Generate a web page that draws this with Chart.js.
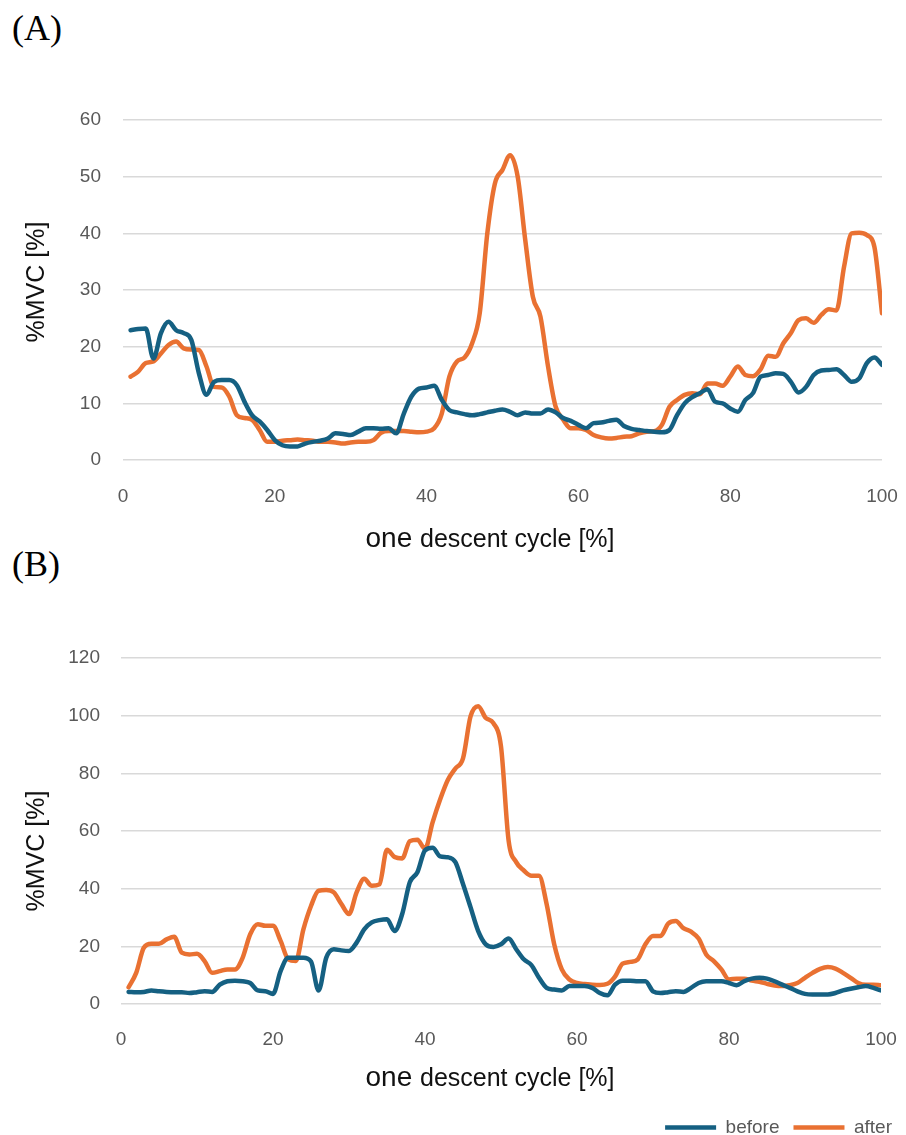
<!DOCTYPE html>
<html>
<head>
<meta charset="utf-8">
<script src="https://cdn.jsdelivr.net/npm/chart.js@4.4.1/dist/chart.umd.min.js"></script>
<style>
  body { margin: 0; width: 906px; height: 1135px; overflow: hidden; background: #fff; position: relative; }
  .panel { position: absolute; left: 12px; font-family: 'Liberation Serif', 'DejaVu Serif', serif; font-size: 36px; color: #000; line-height: 1; }
  canvas { position: absolute; left: 0; }
</style>
</head>
<body>
<div class="panel" style="top:10px">(A)</div>
<div class="panel" style="top:546px">(B)</div>
<canvas id="chartA" width="906" height="560" style="top:0"></canvas>
<canvas id="chartB" width="906" height="587" style="top:560px"></canvas>
<script>
// x positions of the samples, % of one descent cycle
const cycle = [1, 2, 3, 4, 5, 6, 7, 8, 9, 10, 11, 12, 13, 14, 15, 16, 17, 18, 19, 20,
  21, 22, 23, 24, 25, 26, 27, 28, 29, 30, 31, 32, 33, 34, 35, 36, 37, 38, 39, 40,
  41, 42, 43, 44, 45, 46, 47, 48, 49, 50, 51, 52, 53, 54, 55, 56, 57, 58, 59, 60,
  61, 62, 63, 64, 65, 66, 67, 68, 69, 70, 71, 72, 73, 74, 75, 76, 77, 78, 79, 80,
  81, 82, 83, 84, 85, 86, 87, 88, 89, 90, 91, 92, 93, 94, 95, 96, 97, 98, 99, 100];

// (A) %MVC
const beforeA = [22.9, 23.1, 23.2, 17.9, 22.4, 24.4, 22.9, 22.4, 21.2, 15.3,
  11.5, 13.8, 14.1, 14.1, 13.2, 10.3, 7.9, 6.8, 5.3, 3.5,
  2.6, 2.4, 2.4, 2.9, 3.2, 3.4, 3.8, 4.7, 4.6, 4.4,
  5.0, 5.6, 5.6, 5.5, 5.6, 4.7, 8.2, 11.2, 12.6, 12.8,
  13.1, 10.6, 8.8, 8.4, 8.1, 7.9, 8.1, 8.4, 8.7, 8.9,
  8.5, 7.9, 8.4, 8.2, 8.2, 8.9, 8.4, 7.4, 6.9, 6.2,
  5.6, 6.5, 6.6, 6.9, 7.1, 6.0, 5.5, 5.3, 5.1, 5.0,
  4.9, 5.3, 7.9, 10.0, 11.1, 11.8, 12.5, 10.3, 10.0, 9.1,
  8.5, 10.6, 11.8, 14.7, 15.0, 15.3, 15.2, 13.8, 11.9, 12.9,
  15.0, 15.8, 15.9, 16.0, 15.0, 13.8, 14.4, 17.1, 18.1, 16.8];
const afterA = [14.7, 15.6, 17.1, 17.4, 18.8, 20.3, 20.9, 19.7, 19.5, 19.4,
  16.5, 12.9, 12.8, 11.2, 7.9, 7.4, 7.1, 5.3, 3.2, 3.2,
  3.4, 3.5, 3.6, 3.5, 3.4, 3.2, 3.2, 3.1, 2.9, 3.1,
  3.2, 3.2, 3.5, 4.8, 5.1, 5.1, 5.1, 5.0, 4.9, 5.0,
  5.6, 8.2, 14.7, 17.4, 18.1, 20.6, 25.9, 40.0, 48.8, 51.2,
  53.8, 50.0, 38.8, 28.8, 25.3, 16.5, 9.4, 7.1, 5.6, 5.6,
  5.3, 4.4, 4.0, 3.8, 3.9, 4.1, 4.2, 4.7, 5.0, 5.1,
  6.2, 9.4, 10.6, 11.5, 11.8, 11.6, 13.5, 13.5, 13.1, 14.7,
  16.5, 15.0, 14.8, 16.0, 18.4, 18.2, 20.6, 22.4, 24.7, 25.0,
  24.2, 25.6, 26.6, 26.4, 34.1, 40.0, 40.1, 39.7, 37.6, 25.9];

// (B) %MVC
const beforeB = [4.2, 4.1, 4.2, 4.7, 4.4, 4.2, 4.1, 4.1, 3.8, 4.1,
  4.4, 4.2, 6.7, 7.9, 8.1, 7.9, 7.3, 4.7, 4.4, 3.5,
  11.4, 16.0, 16.0, 16.0, 14.7, 4.7, 16.0, 19.0, 18.6, 18.4,
  21.3, 25.9, 28.3, 29.1, 29.4, 25.3, 31.2, 42.2, 45.7, 53.3,
  54.2, 51.2, 50.9, 49.2, 41.6, 33.5, 25.3, 20.7, 19.8, 20.7,
  22.7, 19.0, 15.5, 13.5, 9.1, 5.6, 5.0, 4.7, 6.2, 6.2,
  6.2, 5.6, 3.8, 3.0, 6.7, 8.1, 8.1, 7.9, 7.9, 4.4,
  3.8, 4.1, 4.4, 4.2, 5.6, 7.3, 7.9, 7.9, 7.9, 7.3,
  6.5, 7.9, 8.8, 9.1, 8.8, 7.9, 6.7, 5.6, 4.4, 3.5,
  3.3, 3.3, 3.3, 3.8, 4.7, 5.3, 5.8, 6.2, 5.6, 4.7];
const afterB = [5.8, 10.8, 19.5, 20.9, 20.9, 22.4, 23.3, 17.8, 17.2, 17.4,
  14.9, 10.8, 11.4, 12.0, 12.0, 16.0, 24.2, 27.7, 27.1, 27.1,
  21.9, 15.5, 14.9, 25.9, 34.0, 39.3, 39.5, 38.7, 34.7, 31.2,
  38.7, 43.4, 41.0, 41.5, 53.5, 51.0, 50.5, 56.5, 57.0, 53.8,
  63.0, 71.0, 77.7, 81.7, 85.2, 99.8, 103.3, 99.2, 97.4, 89.3,
  56.7, 49.2, 46.3, 44.5, 44.5, 34.7, 20.7, 12.0, 8.5, 7.3,
  6.9, 6.7, 6.6, 7.0, 9.5, 14.0, 14.6, 15.5, 20.7, 23.6,
  23.6, 27.9, 28.8, 26.3, 25.1, 22.7, 17.2, 14.9, 12.0, 8.5,
  8.8, 8.8, 8.1, 7.7, 7.0, 6.4, 6.2, 6.5, 7.3, 9.1,
  10.8, 12.2, 12.8, 12.3, 10.8, 9.1, 7.3, 6.7, 6.7, 6.5];

const seriesNames = ['before', 'after'];
const xTicks = [0, 20, 40, 60, 80, 100];
const yTicksA = [0, 10, 20, 30, 40, 50, 60];
const yTicksB = [0, 20, 40, 60, 80, 100, 120];
const xTitle = ['one', 'descent cycle [%]'];
const yTitle = '%MVC [%]';

const BLUE = '#156082';
const ORANGE = '#E97132';
const FONT = "'Liberation Sans', Arial, sans-serif";

// axis titles: Excel-style, first word of the x title is set a bit larger
const axisTitles = {
  id: 'axisTitles',
  afterDraw(chart, args, opts) {
    const ctx = chart.ctx;
    ctx.save();
    ctx.fillStyle = '#111';
    ctx.textBaseline = 'alphabetic';
    ctx.textAlign = 'left';
    ctx.font = '28px ' + FONT;
    const w1 = ctx.measureText(xTitle[0] + ' ').width;
    ctx.font = '25px ' + FONT;
    const w2 = ctx.measureText(xTitle[1]).width;
    const x0 = opts.xCenter - (w1 + w2) / 2;
    ctx.font = '28px ' + FONT;
    ctx.fillText(xTitle[0], x0, opts.xBase);
    ctx.font = '25px ' + FONT;
    ctx.fillText(xTitle[1], x0 + w1, opts.xBase);

    ctx.translate(opts.yX, opts.yCenter);
    ctx.rotate(-Math.PI / 2);
    ctx.textAlign = 'center';
    ctx.textBaseline = 'middle';
    ctx.fillText(yTitle, 0, 0);
    ctx.restore();
  }
};

function makeChart(id, before, after, yTicks, o) {
  const scales = {
    x: {
      type: 'linear',
      min: 0,
      max: 100,
      afterBuildTicks: s => { s.ticks = xTicks.map(v => ({ value: v })); },
      afterFit: s => {
        s.height = o.xHeight;
        // the "100" label may hang into the right margin
        s.paddingLeft = 0;
        s.paddingRight = 0;
      },
      grid: { display: false },
      border: { display: false },
      ticks: { color: '#595959', font: { family: FONT, size: 19 }, padding: o.xPad, maxRotation: 0 }
    },
    y: {
      min: 0,
      max: yTicks[yTicks.length - 1],
      afterBuildTicks: s => { s.ticks = yTicks.map(v => ({ value: v })); },
      afterFit: s => { s.width = o.left; },
      grid: { color: '#d9d9d9', lineWidth: 1.5, drawTicks: false },
      border: { display: false },
      ticks: { color: '#595959', font: { family: FONT, size: 19 }, padding: o.yPad }
    }
  };
  if (o.rightPad) {
    scales.pad = {
      type: 'linear', position: 'right', display: true,
      grid: { display: false }, ticks: { display: false }, border: { display: false },
      afterFit: s => { s.width = o.rightPad; }
    };
  }
  return new Chart(document.getElementById(id), {
    type: 'line',
    data: {
      labels: cycle,
      datasets: [
        { label: seriesNames[0], data: before, borderColor: BLUE, backgroundColor: BLUE },
        { label: seriesNames[1], data: after, borderColor: ORANGE, backgroundColor: ORANGE }
      ]
    },
    options: {
      responsive: false,
      animation: false,
      datasets: {
        line: {
          borderWidth: 4.5, pointRadius: 0, cubicInterpolationMode: 'monotone',
          borderCapStyle: 'round', borderJoinStyle: 'round', pointStyle: 'line'
        }
      },
      layout: { padding: o.padding },
      scales: scales,
      plugins: {
        tooltip: { enabled: false },
        legend: {
          display: o.legend,
          position: 'bottom',
          align: 'end',
          labels: {
            usePointStyle: true,
            pointStyle: 'line',
            pointStyleWidth: 51,
            color: '#595959',
            font: { family: FONT, size: 19 },
            padding: 14
          }
        },
        axisTitles: o.titles
      }
    },
    plugins: [axisTitles]
  });
}

makeChart('chartA', beforeA, afterA, yTicksA, {
  left: 123, xHeight: 100, xPad: 17, yPad: 22, legend: false,
  padding: { top: 120, right: 24, left: 0, bottom: 0 },
  titles: { xCenter: 490, xBase: 547, yX: 37, yCenter: 282 }
});

makeChart('chartB', beforeB, afterB, yTicksB, {
  left: 121, xHeight: 100, xPad: 16, yPad: 21, legend: true, rightPad: 25,
  padding: { top: 98, right: 0, left: 0, bottom: 0 },
  titles: { xCenter: 490, xBase: 526, yX: 37, yCenter: 291 }
});
</script>
</body>
</html>
